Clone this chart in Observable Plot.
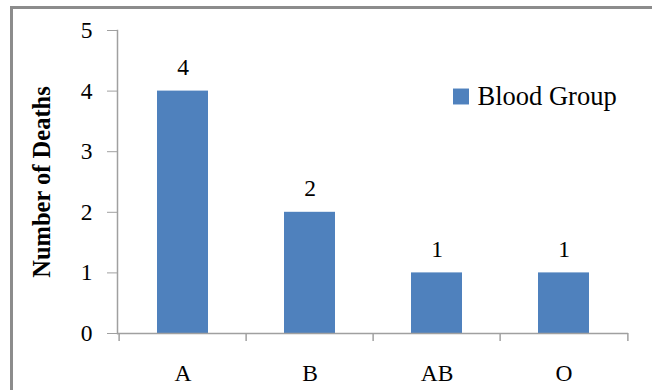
<!DOCTYPE html>
<html>
<head>
<meta charset="utf-8">
<script src="https://cdn.jsdelivr.net/npm/d3@7"></script>
<script src="https://cdn.jsdelivr.net/npm/@observablehq/plot@0.6"></script>
<style>
  html, body { margin: 0; padding: 0; background: #fff; overflow: hidden; }
  #chart { position: relative; width: 652px; height: 390px; }
  #chart svg { display: block; }
  /* grey frame around the chart area */
  #border {
    position: absolute; left: 10px; top: 6px; right: -20px; bottom: -20px;
    border-top: 3px solid #8c8c8c; border-left: 3px solid #8c8c8c;
    pointer-events: none;
  }
</style>
</head>
<body>
<div id="chart"><div id="border"></div></div>
<script>
// Deaths by blood group
const bloodGroups = ["A", "B", "AB", "O"];
const deaths = [4, 2, 1, 1];
const yTicks = [0, 1, 2, 3, 4, 5];
const seriesName = "Blood Group";
const yLabel = "Number of Deaths";

const data = bloodGroups.map((group, i) => ({group, deaths: deaths[i]}));

const W = 652, H = 390;
const mL = 117, mR = 24, mT = 30, mB = 57;
const step = (W - mL - mR) / bloodGroups.length;
const font = "'Liberation Serif', 'Times New Roman', serif";
const axisGray = "#a0a0a0";
const barBlue = "#4f81bd";
const labelSize = 23.5;

const plot = Plot.plot({
  width: W,
  height: H,
  marginLeft: mL,
  marginRight: mR,
  marginTop: mT,
  marginBottom: mB,
  style: {fontFamily: font, fontSize: labelSize + "px", color: "#000", background: "transparent"},
  x: {domain: bloodGroups, paddingInner: 0.6, paddingOuter: 0.3, axis: null, label: null},
  y: {domain: [0, 5], axis: null, label: null},
  marks: [
    Plot.barY(data, {x: "group", y: "deaths", fill: barBlue}),
    // axis lines
    Plot.ruleY([0], {stroke: axisGray, strokeWidth: 1.5}),
    Plot.frame({anchor: "left", stroke: axisGray, strokeWidth: 1.5}),
    // y ticks and labels
    Plot.axisY(yTicks, {tickSize: 10, tickPadding: 15, tickFormat: d => String(d), label: null, stroke: axisGray, fill: "#000", fontSize: labelSize}),
    // x category labels
    Plot.axisX({tickSize: 0, tickPadding: 31, label: null, fill: "#000", fontSize: labelSize}),
    // x tick marks on category boundaries
    Plot.ruleX(bloodGroups, {x: d => d, y1: 0, y2: 0, insetBottom: -8, dx: -step / 2, stroke: axisGray, strokeWidth: 1.5}),
    Plot.ruleX(bloodGroups.slice(-1), {x: d => d, y1: 0, y2: 0, insetBottom: -8, dx: step / 2, stroke: axisGray, strokeWidth: 1.5}),
    // value labels
    Plot.text(data, {x: "group", y: "deaths", text: d => String(d.deaths), dy: -16, lineAnchor: "bottom", fontSize: labelSize, fill: "#000"}),
    // y axis title
    Plot.text([yLabel], {frameAnchor: "left", rotate: -90, dx: -75, textAnchor: "middle", lineAnchor: "middle", fontWeight: "bold", fontSize: 24.5, fill: "#000"}),
    // legend
    Plot.dot([seriesName], {frameAnchor: "top-left", dx: 460.5 - mL, dy: 96 - mT, symbol: "square", r: 9, fill: barBlue}),
    Plot.text([seriesName], {frameAnchor: "top-left", dx: 477 - mL, dy: 96 - mT, textAnchor: "start", lineAnchor: "middle", fontSize: 26.5, fill: "#000"})
  ]
});

document.getElementById("chart").prepend(plot);
</script>
</body>
</html>
